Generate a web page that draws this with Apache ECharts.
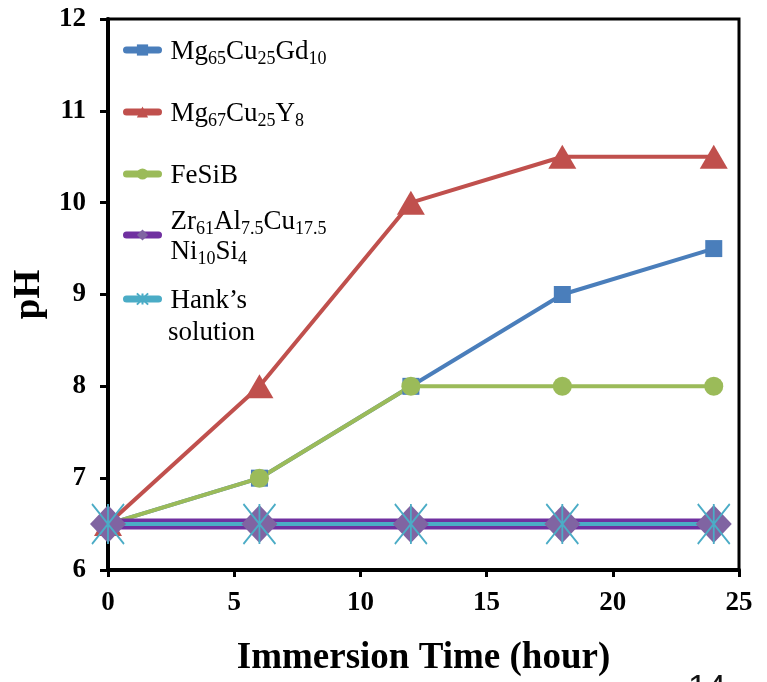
<!DOCTYPE html>
<html><head><meta charset="utf-8">
<script src="https://cdn.jsdelivr.net/npm/echarts@6/dist/echarts.min.js"></script>
<style>html,body{margin:0;padding:0;background:#fff}#c{width:767px;height:682px}</style>
</head><body><div id="c"></div>
<script>
const times = [0, 6, 12, 18, 24];
const mgGd = [6.5, 7, 8, 9, 9.5];
const mgY = [6.5, 8, 10, 10.5, 10.5];
const feSiB = [6.5, 7, 8, 8, 8];
const zrAl = [6.5, 6.5, 6.5, 6.5, 6.5];
const hanks = [6.5, 6.5, 6.5, 6.5, 6.5];
const names = ['Mg65Cu25Gd10', 'Mg67Cu25Y8', 'FeSiB', 'Zr61Al7.5Cu17.5Ni10Si4', "Hank's solution"];
const legendText = {
  'Mg65Cu25Gd10': '{n|Mg}{s|65}{n|Cu}{s|25}{n|Gd}{s|10}',
  'Mg67Cu25Y8': '{n|Mg}{s|67}{n|Cu}{s|25}{n|Y}{s|8}',
  'FeSiB': '{n|FeSiB}',
  'Zr61Al7.5Cu17.5Ni10Si4': '{n|Zr}{s|61}{n|Al}{s|7.5}{n|Cu}{s|17.5}\n{n|Ni}{s|10}{n|Si}{s|4}',
  "Hank's solution": "{n|Hank\u2019s}"
};
const serif = 'Liberation Serif';
const pair = a => a.map((v, i) => [times[i], v]);
const rich = {
  n: {fontFamily: serif, fontSize: 27, color: '#000', lineHeight: 30, verticalAlign: 'bottom'},
  s: {fontFamily: serif, fontSize: 18, color: '#000', lineHeight: 24, verticalAlign: 'bottom', padding: [0, 0, -3, 0]}
};
const legendTops = [33, 95, 157, 203, 282];
const legends = names.map((nm, i) => ({
  data: [nm], left: 118, top: legendTops[i], orient: 'vertical',
  itemWidth: 32, itemHeight: 14, selectedMode: false,
  lineStyle: {width: 7, cap: 'round'},
  formatter: n => legendText[n],
  textStyle: {rich: rich, padding: [0, 0, 0, 7]}
}));
const chart = echarts.init(document.getElementById('c'));
chart.setOption({
  animation: false,
  backgroundColor: '#fff',
  grid: {left: 108, right: 28, top: 19, bottom: 112, show: true, borderColor: '#000', borderWidth: 3},
  legend: legends,
  xAxis: {
    type: 'value', min: 0, max: 25, interval: 5,
    name: 'Immersion Time (hour)', nameLocation: 'middle', nameGap: 70,
    nameTextStyle: {fontFamily: serif, fontWeight: 'bold', fontSize: 37, color: '#000'},
    axisLine: {lineStyle: {color: '#000', width: 4}},
    axisTick: {show: true, length: 7, lineStyle: {color: '#000', width: 3}},
    axisLabel: {fontFamily: serif, fontWeight: 'bold', fontSize: 27, color: '#000', margin: 20},
    splitLine: {show: false}
  },
  yAxis: {
    type: 'value', min: 6, max: 12, interval: 1,
    name: 'pH', nameLocation: 'middle', nameGap: 56, nameRotate: 90,
    nameTextStyle: {fontFamily: serif, fontWeight: 'bold', fontSize: 37, color: '#000'},
    axisLine: {lineStyle: {color: '#000', width: 4}},
    axisTick: {show: true, length: 8, lineStyle: {color: '#000', width: 3}},
    axisLabel: {fontFamily: serif, fontWeight: 'bold', fontSize: 27, color: '#000', margin: 22},
    splitLine: {show: false}
  },
  graphic: [
    {type: 'text', left: 168, top: 319, style: {text: 'solution', font: '27px "Liberation Serif"', fill: '#000'}},
    {type: 'text', left: 688, top: 672, style: {text: '14', font: '34px "Liberation Sans"', fill: '#111'}}
  ],
  series: [
    {name: names[0], type: 'line', data: pair(mgGd), symbol: 'rect', symbolSize: 17,
     itemStyle: {color: '#4A7EBB'}, lineStyle: {width: 4, color: '#4A7EBB'}},
    {name: names[1], type: 'line', data: pair(mgY), symbol: 'triangle', symbolSize: [28, 24],
     itemStyle: {color: '#C0504D'}, lineStyle: {width: 4, color: '#C0504D'}},
    {name: names[2], type: 'line', data: pair(feSiB), symbol: 'circle', symbolSize: 19,
     itemStyle: {color: '#9BBB59'}, lineStyle: {width: 4, color: '#9BBB59'}},
    {name: names[3], type: 'line', data: pair(zrAl), symbol: 'diamond', symbolSize: [36, 38],
     itemStyle: {color: '#8064A2'}, lineStyle: {width: 11, color: '#7030A0'}},
    {name: names[4], type: 'line', data: pair(hanks),
     symbol: 'path://M0 0 L32 40 M32 0 L0 40 M16 0 L16 40', symbolSize: [32, 40],
     itemStyle: {color: '#4BACC6', borderColor: '#4BACC6', borderWidth: 2}, lineStyle: {width: 4, color: '#4BACC6'}}
  ]
});
</script></body></html>
